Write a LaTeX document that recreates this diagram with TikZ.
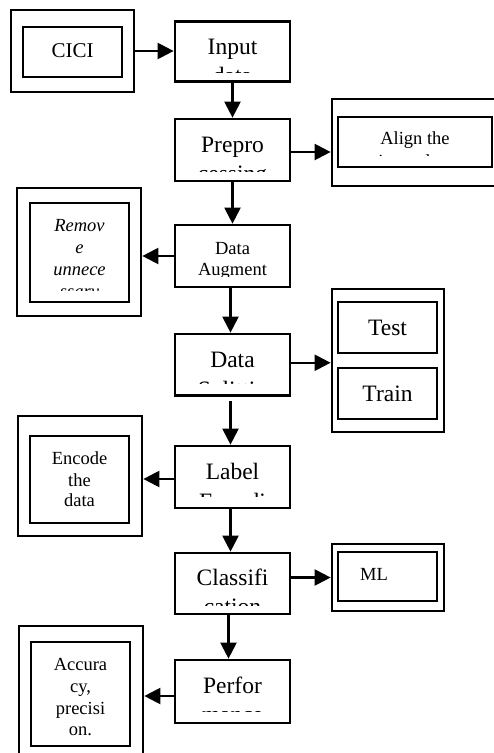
\documentclass[tikz,border=0pt]{standalone}
\usepackage{fontspec}
\setmainfont{Liberation Serif}
\usetikzlibrary{arrows.meta}
\begin{document}
\begin{tikzpicture}[x=1pt,y=-1pt,
  box/.style={draw, line width=2.7pt, inner sep=0pt},
  arr/.style={line width=2.2pt, -{Triangle[length=16pt,width=16pt]}},
  big/.style={font=\fontsize{23.5}{27}\selectfont, inner sep=0pt, anchor=base},
  small/.style={font=\fontsize{18.5}{21}\selectfont, inner sep=0pt, anchor=base},
  ital/.style={font=\fontsize{18.5}{21}\selectfont\itshape, inner sep=0pt, anchor=base},
  mid/.style={font=\fontsize{21}{25}\selectfont, inner sep=0pt, anchor=base},
]
\clip (0,0) rectangle (494,753);
\fill[white] (0,0) rectangle (494,753);

% ---- main column
\node[box, minimum width=115pt, minimum height=60pt] (inp) at (232.5,51.7) {};
\node[box, minimum width=115pt, minimum height=62pt] (pre) at (232.5,150) {};
\node[box, minimum width=115pt, minimum height=62pt] (aug) at (232.5,256) {};
\node[box, minimum width=115pt, minimum height=61.5pt] (spl) at (232.5,364.75) {};
\node[box, minimum width=115pt, minimum height=62pt] (lab) at (232.5,477) {};
\node[box, minimum width=115pt, minimum height=61pt] (cls) at (232.5,583.5) {};
\node[box, minimum width=115pt, minimum height=63pt] (per) at (232.5,691.5) {};

% ---- left boxes
\node[box, minimum width=123pt, minimum height=82pt] (cicio) at (72.5,51) {};
\node[box, minimum width=99pt, minimum height=50pt] (cicii) at (72.5,52) {};
\node[box, minimum width=124pt, minimum height=128pt] (remo) at (79,252) {};
\node[box, minimum width=99pt, minimum height=99pt] (remi) at (79.5,252.5) {};
\node[box, minimum width=124pt, minimum height=120pt] (enco) at (80,476) {};
\node[box, minimum width=99pt, minimum height=87pt] (enci) at (79.5,479.5) {};
\node[box, minimum width=124pt, minimum height=144pt] (acco) at (81,698) {};
\node[box, minimum width=99pt, minimum height=104pt] (acci) at (80.5,694) {};

% ---- right boxes
\node[box, minimum width=178pt, minimum height=87pt] (alno) at (421,142.5) {};
\node[box, minimum width=154pt, minimum height=50pt] (alni) at (415,142) {};
\node[box, minimum width=112pt, minimum height=143pt] (tto) at (388,360.5) {};
\node[box, minimum width=99pt, minimum height=51pt] (test) at (387.5,327.5) {};
\node[box, minimum width=99pt, minimum height=51pt] (train) at (387.5,393.5) {};
\node[box, minimum width=112pt, minimum height=67pt] (mlo) at (388,577.5) {};
\node[box, minimum width=99pt, minimum height=49pt] (mli) at (387.5,576.5) {};

% ---- connectors
\draw[arr] (cicio.east) -- (cicio.east -| inp.west);
\draw[arr] (inp.south) -- (pre.north);
\draw[arr] ([yshift=-2pt]pre.east) -- ([yshift=-2pt]pre.east -| alno.west);
\draw[arr] (pre.south) -- (aug.north);
\draw[arr] (aug.west) -- (aug.west -| remo.east);
\draw[arr] ([xshift=-2pt]aug.south) -- ([xshift=-2pt]spl.north);
\draw[arr] ([yshift=2pt]spl.east) -- ([yshift=2pt]spl.east -| tto.west);
\draw[arr] ([xshift=-2pt,yshift=-4pt]spl.south) -- ([xshift=-2pt]lab.north);
\draw[arr] ([yshift=-2pt]lab.west) -- ([yshift=-2pt]lab.west -| enco.east);
\draw[arr] ([xshift=-2pt]lab.south) -- ([xshift=-2pt]cls.north);
\draw[arr] (cls.east |- mlo.west) -- (mlo.west);
\draw[arr] ([xshift=-4pt]cls.south) -- ([xshift=-4pt]per.north);
\draw[arr] ([yshift=-4.5pt]per.west) -- ([yshift=-4.5pt]per.west -| acco.east);

% ---- texts
\node[mid] (tcici) at (72.5,57.3) {CICI};

\begin{scope}
\clip (175,21.7) rectangle (290,72.3);
\node[big] (tinp1) at (232.5,54.3) {Input};
\node[big] (tinp2) at (232.5,83) {data};
\end{scope}

\begin{scope}
\clip (175,119) rectangle (290,171);
\node[big] (tpre1) at (232.5,152.7) {Prepro};
\node[big] (tpre2) at (232.5,181.5) {cessing};
\end{scope}

\begin{scope}
\clip (338,117) rectangle (492,155.7);
\node[small] (taln1) at (415,144.3) {Align the};
\node[small] (taln2) at (415,167) {input data};
\end{scope}

\begin{scope}
\clip (30,203) rectangle (129,290);
\node[ital] (trem1) at (79.5,231.7) {Remov};
\node[ital] (trem2) at (79.5,253.3) {e};
\node[ital] (trem3) at (79.5,275) {unnece};
\node[ital] (trem4) at (79.5,297.5) {ssary};
\end{scope}

\begin{scope}
\clip (175,225) rectangle (290,276.5);
\node[small] (taug1) at (232.5,254) {Data};
\node[small] (taug2) at (232.5,275) {Augment};
\end{scope}

\node[big] (ttest) at (387.5,335.5) {Test};
\node[big] (ttrain) at (387.5,401.7) {Train};

\begin{scope}
\clip (175,334) rectangle (290,383.3);
\node[big] (tspl1) at (232.5,367.3) {Data};
\node[big] (tspl2) at (232.5,397) {Splittin};
\end{scope}

\node[small] (tenc1) at (79.5,464) {Encode};
\node[small] (tenc2) at (79.5,486) {the};
\node[small] (tenc3) at (79.5,506.7) {data};

\begin{scope}
\clip (175,446) rectangle (290,496.7);
\node[big] (tlab1) at (232.5,479.3) {Label};
\node[big] (tlab2) at (232.5,509.5) {Encodi};
\end{scope}

\begin{scope}
\clip (175,553) rectangle (290,605);
\node[big] (tcls1) at (232.5,585) {Classifi};
\node[big] (tcls2) at (232.5,614.5) {cation};
\end{scope}

\node[small] (tml) at (374,580.7) {ML};

\begin{scope}
\clip (175,660) rectangle (290,711.7);
\node[big] (tper1) at (232.5,693.3) {Perfor};
\node[big] (tper2) at (232.5,722) {mance};
\end{scope}

\node[small] (tacc1) at (80.5,670.7) {Accura};
\node[small] (tacc2) at (80.5,692.7) {cy,};
\node[small] (tacc3) at (80.5,714) {precisi};
\node[small] (tacc4) at (80.5,735.7) {on.};
\end{tikzpicture}
\end{document}
